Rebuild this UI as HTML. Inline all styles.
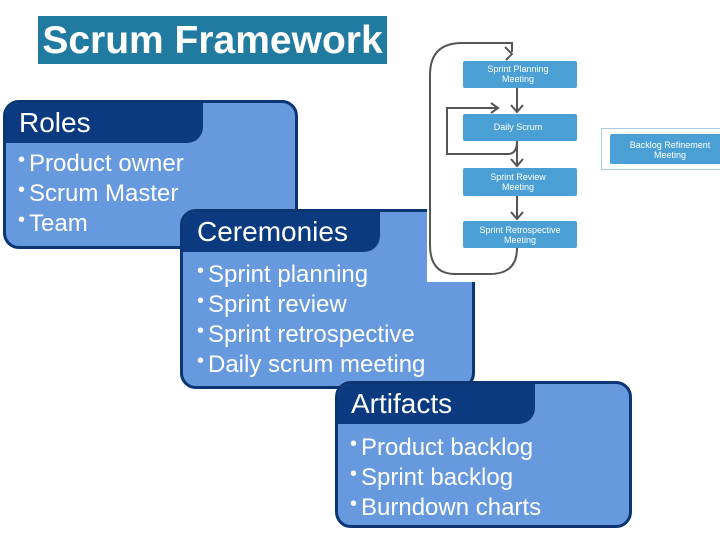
<!DOCTYPE html>
<html><head><meta charset="utf-8"><style>
body{margin:0;width:720px;height:540px;background:#fff;position:relative;overflow:hidden;font-family:"Liberation Sans",sans-serif;}
.t{position:absolute;left:38px;top:16px;width:349px;height:48px;background:#217aa0;color:#fff;font-weight:bold;font-size:39px;line-height:50px;text-align:center;white-space:nowrap;letter-spacing:0px}
.box{position:absolute;background:#6699dd;border:3px solid #0b3673;border-radius:16px;box-sizing:border-box;overflow:hidden;}
.hd{position:absolute;left:0;top:0;background:#0b3a80;color:#fff;font-size:28px;line-height:40px;padding-left:13px;box-sizing:border-box;border-bottom-right-radius:16px;height:40px;}
.ls{position:absolute;color:#fff;font-size:24px;line-height:30px;white-space:nowrap}
.ls div{height:30px}
.ls span{font-size:20px;display:inline-block;width:11px;position:relative;top:-5px}
.img{position:absolute;left:427px;top:38px;width:166px;height:244px;background:#fff;}
</style></head><body>
<div class="t">Scrum Framework</div>

<div class="box" style="left:3px;top:100px;width:295px;height:149px">
<div class="hd" style="width:197px">Roles</div>
<div class="ls" style="left:12px;top:46px">
<div><span>•</span>Product owner</div><div><span>•</span>Scrum Master</div><div><span>•</span>Team</div></div>
</div>

<div class="box" style="left:180px;top:209px;width:295px;height:180px">
<div class="hd" style="width:197px;padding-left:14px">Ceremonies</div>
<div class="ls" style="left:14px;top:48px">
<div><span>•</span>Sprint planning</div><div><span>•</span>Sprint review</div><div><span>•</span>Sprint retrospective</div><div><span>•</span>Daily scrum meeting</div></div>
</div>

<div class="img"></div>

<div class="box" style="left:335px;top:381px;width:297px;height:147px">
<div class="hd" style="width:197px;padding-left:13px">Artifacts</div>
<div class="ls" style="left:12px;top:49px">
<div><span>•</span>Product backlog</div><div><span>•</span>Sprint backlog</div><div><span>•</span>Burndown charts</div></div>
</div>

<svg style="position:absolute;left:0;top:0" width="720" height="540">
<g fill="none" stroke="#555" stroke-width="2">
<path d="M517 248 Q517 274 490 274 L455 274 Q430 274 430 245 L430 75 Q430 43 462 43 L512 43 Q512 46 512 52"/>
<path d="M505 47 L512 54 L506 60"/>
<path d="M517 88 L517 112 M511 105 L517 112 L523 105"/>
<path d="M517 141 L517 166 M511 159 L517 166 L523 159"/>
<path d="M517 196 L517 219 M511 212 L517 219 L523 212"/>
<path d="M517 141 Q517 154 508 154 L447 154 L447 108 L497 108 M491 103 L498 108 L491 113"/>
</g>
<g fill="#4a9fd4">
<rect x="463" y="61" width="114" height="27" rx="2"/>
<rect x="463" y="114" width="114" height="27" rx="2"/>
<rect x="463" y="168" width="114" height="28" rx="2"/>
<rect x="463" y="221" width="114" height="27" rx="2"/>
<rect x="610" y="134" width="112" height="30" rx="2"/>
</g>
<rect x="601.5" y="128.5" width="130" height="41" fill="none" stroke="#a8cbe6" stroke-width="1"/>
<g fill="#fff" font-family="Liberation Sans,sans-serif" font-size="9" text-anchor="middle">
<text x="518" y="72">Sprint Planning</text><text x="518" y="82">Meeting</text>
<text x="518" y="130">Daily Scrum</text>
<text x="518" y="180">Sprint Review</text><text x="518" y="190">Meeting</text>
<text x="520" y="233">Sprint Retrospective</text><text x="520" y="243">Meeting</text>
<text x="670" y="148">Backlog Refinement</text><text x="670" y="158">Meeting</text>
</g>
</svg>
</body></html>
